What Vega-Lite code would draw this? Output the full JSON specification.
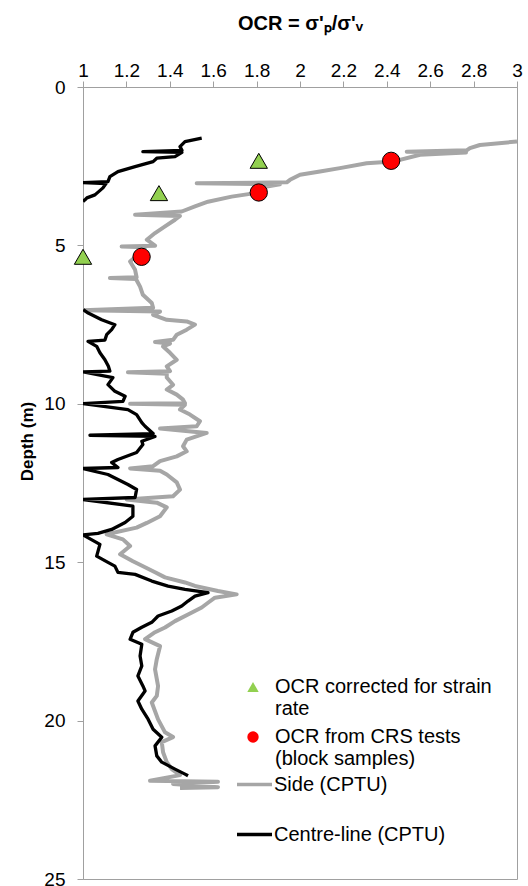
{
  "$schema": "https://vega.github.io/schema/vega-lite/v6.json",
  "width": 434,
  "height": 792,
  "autosize": {"type": "none"},
  "padding": {"left": 83, "top": 87, "right": 11, "bottom": 7},
  "background": "white",
  "config": {
    "view": {"stroke": "#A0A0A0", "strokeWidth": 1},
    "font": "Liberation Sans",
    "axis": {"grid": false, "domainColor": "#A0A0A0", "tickColor": "#A0A0A0", "labelColor": "#000000", "titleColor": "#000000", "labelFont": "Liberation Sans", "titleFont": "Liberation Sans"}
  },
  "datasets": {
    "side": [
      {"line": "Side (CPTU)", "ocr": 3.0, "depth": 1.72},
      {"line": "Side (CPTU)", "ocr": 2.829, "depth": 1.83},
      {"line": "Side (CPTU)", "ocr": 2.783, "depth": 1.93},
      {"line": "Side (CPTU)", "ocr": 2.768, "depth": 2.0},
      {"line": "Side (CPTU)", "ocr": 2.492, "depth": 2.04},
      {"line": "Side (CPTU)", "ocr": 2.765, "depth": 2.065},
      {"line": "Side (CPTU)", "ocr": 2.553, "depth": 2.14},
      {"line": "Side (CPTU)", "ocr": 2.429, "depth": 2.355},
      {"line": "Side (CPTU)", "ocr": 2.307, "depth": 2.405},
      {"line": "Side (CPTU)", "ocr": 2.184, "depth": 2.56},
      {"line": "Side (CPTU)", "ocr": 2.092, "depth": 2.67},
      {"line": "Side (CPTU)", "ocr": 2.0, "depth": 2.77},
      {"line": "Side (CPTU)", "ocr": 1.954, "depth": 2.93},
      {"line": "Side (CPTU)", "ocr": 1.939, "depth": 3.01},
      {"line": "Side (CPTU)", "ocr": 1.524, "depth": 3.035},
      {"line": "Side (CPTU)", "ocr": 1.908, "depth": 3.07},
      {"line": "Side (CPTU)", "ocr": 1.847, "depth": 3.14},
      {"line": "Side (CPTU)", "ocr": 1.793, "depth": 3.35},
      {"line": "Side (CPTU)", "ocr": 1.685, "depth": 3.46},
      {"line": "Side (CPTU)", "ocr": 1.576, "depth": 3.62},
      {"line": "Side (CPTU)", "ocr": 1.516, "depth": 3.77},
      {"line": "Side (CPTU)", "ocr": 1.455, "depth": 3.93},
      {"line": "Side (CPTU)", "ocr": 1.24, "depth": 4.035},
      {"line": "Side (CPTU)", "ocr": 1.447, "depth": 4.07},
      {"line": "Side (CPTU)", "ocr": 1.424, "depth": 4.19},
      {"line": "Side (CPTU)", "ocr": 1.378, "depth": 4.4},
      {"line": "Side (CPTU)", "ocr": 1.332, "depth": 4.61},
      {"line": "Side (CPTU)", "ocr": 1.294, "depth": 4.82},
      {"line": "Side (CPTU)", "ocr": 1.332, "depth": 5.01},
      {"line": "Side (CPTU)", "ocr": 1.178, "depth": 5.035},
      {"line": "Side (CPTU)", "ocr": 1.286, "depth": 5.06},
      {"line": "Side (CPTU)", "ocr": 1.271, "depth": 5.19},
      {"line": "Side (CPTU)", "ocr": 1.217, "depth": 5.51},
      {"line": "Side (CPTU)", "ocr": 1.24, "depth": 5.77},
      {"line": "Side (CPTU)", "ocr": 1.247, "depth": 6.005},
      {"line": "Side (CPTU)", "ocr": 1.124, "depth": 6.03},
      {"line": "Side (CPTU)", "ocr": 1.244, "depth": 6.06},
      {"line": "Side (CPTU)", "ocr": 1.263, "depth": 6.3},
      {"line": "Side (CPTU)", "ocr": 1.276, "depth": 6.56},
      {"line": "Side (CPTU)", "ocr": 1.317, "depth": 6.82},
      {"line": "Side (CPTU)", "ocr": 1.323, "depth": 6.97},
      {"line": "Side (CPTU)", "ocr": 1.0, "depth": 7.05},
      {"line": "Side (CPTU)", "ocr": 1.355, "depth": 7.09},
      {"line": "Side (CPTU)", "ocr": 1.323, "depth": 7.19},
      {"line": "Side (CPTU)", "ocr": 1.386, "depth": 7.35},
      {"line": "Side (CPTU)", "ocr": 1.478, "depth": 7.4},
      {"line": "Side (CPTU)", "ocr": 1.516, "depth": 7.5},
      {"line": "Side (CPTU)", "ocr": 1.478, "depth": 7.66},
      {"line": "Side (CPTU)", "ocr": 1.432, "depth": 7.82},
      {"line": "Side (CPTU)", "ocr": 1.415, "depth": 7.98},
      {"line": "Side (CPTU)", "ocr": 1.332, "depth": 8.05},
      {"line": "Side (CPTU)", "ocr": 1.401, "depth": 8.1},
      {"line": "Side (CPTU)", "ocr": 1.369, "depth": 8.19},
      {"line": "Side (CPTU)", "ocr": 1.401, "depth": 8.39},
      {"line": "Side (CPTU)", "ocr": 1.432, "depth": 8.61},
      {"line": "Side (CPTU)", "ocr": 1.386, "depth": 8.82},
      {"line": "Side (CPTU)", "ocr": 1.401, "depth": 8.97},
      {"line": "Side (CPTU)", "ocr": 1.207, "depth": 9.005},
      {"line": "Side (CPTU)", "ocr": 1.386, "depth": 9.05},
      {"line": "Side (CPTU)", "ocr": 1.386, "depth": 9.17},
      {"line": "Side (CPTU)", "ocr": 1.415, "depth": 9.4},
      {"line": "Side (CPTU)", "ocr": 1.386, "depth": 9.55},
      {"line": "Side (CPTU)", "ocr": 1.432, "depth": 9.71},
      {"line": "Side (CPTU)", "ocr": 1.461, "depth": 9.87},
      {"line": "Side (CPTU)", "ocr": 1.47, "depth": 9.98},
      {"line": "Side (CPTU)", "ocr": 1.217, "depth": 9.995},
      {"line": "Side (CPTU)", "ocr": 1.47, "depth": 10.03},
      {"line": "Side (CPTU)", "ocr": 1.447, "depth": 10.18},
      {"line": "Side (CPTU)", "ocr": 1.493, "depth": 10.34},
      {"line": "Side (CPTU)", "ocr": 1.539, "depth": 10.55},
      {"line": "Side (CPTU)", "ocr": 1.524, "depth": 10.71},
      {"line": "Side (CPTU)", "ocr": 1.355, "depth": 10.78},
      {"line": "Side (CPTU)", "ocr": 1.57, "depth": 10.92},
      {"line": "Side (CPTU)", "ocr": 1.478, "depth": 11.13},
      {"line": "Side (CPTU)", "ocr": 1.461, "depth": 11.34},
      {"line": "Side (CPTU)", "ocr": 1.478, "depth": 11.5},
      {"line": "Side (CPTU)", "ocr": 1.432, "depth": 11.66},
      {"line": "Side (CPTU)", "ocr": 1.355, "depth": 11.81},
      {"line": "Side (CPTU)", "ocr": 1.323, "depth": 11.97},
      {"line": "Side (CPTU)", "ocr": 1.217, "depth": 12.04},
      {"line": "Side (CPTU)", "ocr": 1.355, "depth": 12.11},
      {"line": "Side (CPTU)", "ocr": 1.386, "depth": 12.23},
      {"line": "Side (CPTU)", "ocr": 1.432, "depth": 12.48},
      {"line": "Side (CPTU)", "ocr": 1.447, "depth": 12.71},
      {"line": "Side (CPTU)", "ocr": 1.415, "depth": 12.92},
      {"line": "Side (CPTU)", "ocr": 1.201, "depth": 13.02},
      {"line": "Side (CPTU)", "ocr": 1.34, "depth": 13.12},
      {"line": "Side (CPTU)", "ocr": 1.386, "depth": 13.27},
      {"line": "Side (CPTU)", "ocr": 1.355, "depth": 13.55},
      {"line": "Side (CPTU)", "ocr": 1.294, "depth": 13.76},
      {"line": "Side (CPTU)", "ocr": 1.247, "depth": 13.91},
      {"line": "Side (CPTU)", "ocr": 1.109, "depth": 14.12},
      {"line": "Side (CPTU)", "ocr": 1.184, "depth": 14.28},
      {"line": "Side (CPTU)", "ocr": 1.217, "depth": 14.49},
      {"line": "Side (CPTU)", "ocr": 1.171, "depth": 14.75},
      {"line": "Side (CPTU)", "ocr": 1.23, "depth": 14.97},
      {"line": "Side (CPTU)", "ocr": 1.286, "depth": 15.16},
      {"line": "Side (CPTU)", "ocr": 1.332, "depth": 15.32},
      {"line": "Side (CPTU)", "ocr": 1.378, "depth": 15.48},
      {"line": "Side (CPTU)", "ocr": 1.47, "depth": 15.64},
      {"line": "Side (CPTU)", "ocr": 1.516, "depth": 15.75},
      {"line": "Side (CPTU)", "ocr": 1.622, "depth": 15.91},
      {"line": "Side (CPTU)", "ocr": 1.708, "depth": 16.015},
      {"line": "Side (CPTU)", "ocr": 1.608, "depth": 16.12},
      {"line": "Side (CPTU)", "ocr": 1.576, "depth": 16.28},
      {"line": "Side (CPTU)", "ocr": 1.547, "depth": 16.43},
      {"line": "Side (CPTU)", "ocr": 1.484, "depth": 16.65},
      {"line": "Side (CPTU)", "ocr": 1.424, "depth": 16.86},
      {"line": "Side (CPTU)", "ocr": 1.378, "depth": 17.06},
      {"line": "Side (CPTU)", "ocr": 1.332, "depth": 17.21},
      {"line": "Side (CPTU)", "ocr": 1.286, "depth": 17.43},
      {"line": "Side (CPTU)", "ocr": 1.355, "depth": 17.65},
      {"line": "Side (CPTU)", "ocr": 1.34, "depth": 18.06},
      {"line": "Side (CPTU)", "ocr": 1.332, "depth": 18.38},
      {"line": "Side (CPTU)", "ocr": 1.346, "depth": 18.91},
      {"line": "Side (CPTU)", "ocr": 1.34, "depth": 19.22},
      {"line": "Side (CPTU)", "ocr": 1.317, "depth": 19.43},
      {"line": "Side (CPTU)", "ocr": 1.346, "depth": 19.96},
      {"line": "Side (CPTU)", "ocr": 1.378, "depth": 20.37},
      {"line": "Side (CPTU)", "ocr": 1.415, "depth": 20.52},
      {"line": "Side (CPTU)", "ocr": 1.363, "depth": 20.68},
      {"line": "Side (CPTU)", "ocr": 1.369, "depth": 21.0},
      {"line": "Side (CPTU)", "ocr": 1.386, "depth": 21.31},
      {"line": "Side (CPTU)", "ocr": 1.409, "depth": 21.53},
      {"line": "Side (CPTU)", "ocr": 1.447, "depth": 21.72},
      {"line": "Side (CPTU)", "ocr": 1.309, "depth": 21.9},
      {"line": "Side (CPTU)", "ocr": 1.622, "depth": 21.93},
      {"line": "Side (CPTU)", "ocr": 1.415, "depth": 22.0},
      {"line": "Side (CPTU)", "ocr": 1.622, "depth": 22.1},
      {"line": "Side (CPTU)", "ocr": 1.447, "depth": 22.13}
    ],
    "centre": [
      {"line": "Centre-line (CPTU)", "seg": "upper", "ocr": 1.547, "depth": 1.617},
      {"line": "Centre-line (CPTU)", "seg": "upper", "ocr": 1.47, "depth": 1.724},
      {"line": "Centre-line (CPTU)", "seg": "upper", "ocr": 1.447, "depth": 1.882},
      {"line": "Centre-line (CPTU)", "seg": "upper", "ocr": 1.456, "depth": 2.0},
      {"line": "Centre-line (CPTU)", "seg": "upper", "ocr": 1.276, "depth": 2.04},
      {"line": "Centre-line (CPTU)", "seg": "upper", "ocr": 1.456, "depth": 2.065},
      {"line": "Centre-line (CPTU)", "seg": "upper", "ocr": 1.424, "depth": 2.197},
      {"line": "Centre-line (CPTU)", "seg": "upper", "ocr": 1.34, "depth": 2.248},
      {"line": "Centre-line (CPTU)", "seg": "upper", "ocr": 1.323, "depth": 2.355},
      {"line": "Centre-line (CPTU)", "seg": "upper", "ocr": 1.24, "depth": 2.513},
      {"line": "Centre-line (CPTU)", "seg": "upper", "ocr": 1.161, "depth": 2.67},
      {"line": "Centre-line (CPTU)", "seg": "upper", "ocr": 1.124, "depth": 2.828},
      {"line": "Centre-line (CPTU)", "seg": "upper", "ocr": 1.115, "depth": 2.986},
      {"line": "Centre-line (CPTU)", "seg": "upper", "ocr": 1.0, "depth": 3.017},
      {"line": "Centre-line (CPTU)", "seg": "upper", "ocr": 1.106, "depth": 3.05},
      {"line": "Centre-line (CPTU)", "seg": "upper", "ocr": 1.092, "depth": 3.184},
      {"line": "Centre-line (CPTU)", "seg": "upper", "ocr": 1.055, "depth": 3.405},
      {"line": "Centre-line (CPTU)", "seg": "upper", "ocr": 1.018, "depth": 3.499},
      {"line": "Centre-line (CPTU)", "seg": "upper", "ocr": 1.009, "depth": 3.562},
      {"line": "Centre-line (CPTU)", "seg": "upper", "ocr": 1.0, "depth": 3.616},
      {"line": "Centre-line (CPTU)", "seg": "lower", "ocr": 1.001, "depth": 7.03},
      {"line": "Centre-line (CPTU)", "seg": "lower", "ocr": 1.024, "depth": 7.134},
      {"line": "Centre-line (CPTU)", "seg": "lower", "ocr": 1.086, "depth": 7.346},
      {"line": "Centre-line (CPTU)", "seg": "lower", "ocr": 1.147, "depth": 7.503},
      {"line": "Centre-line (CPTU)", "seg": "lower", "ocr": 1.132, "depth": 7.661},
      {"line": "Centre-line (CPTU)", "seg": "lower", "ocr": 1.109, "depth": 7.818},
      {"line": "Centre-line (CPTU)", "seg": "lower", "ocr": 1.101, "depth": 7.99},
      {"line": "Centre-line (CPTU)", "seg": "lower", "ocr": 1.023, "depth": 8.03},
      {"line": "Centre-line (CPTU)", "seg": "lower", "ocr": 1.063, "depth": 8.187},
      {"line": "Centre-line (CPTU)", "seg": "lower", "ocr": 1.078, "depth": 8.386},
      {"line": "Centre-line (CPTU)", "seg": "lower", "ocr": 1.101, "depth": 8.607},
      {"line": "Centre-line (CPTU)", "seg": "lower", "ocr": 1.117, "depth": 8.818},
      {"line": "Centre-line (CPTU)", "seg": "lower", "ocr": 1.124, "depth": 8.97},
      {"line": "Centre-line (CPTU)", "seg": "lower", "ocr": 1.0, "depth": 8.994},
      {"line": "Centre-line (CPTU)", "seg": "lower", "ocr": 1.138, "depth": 9.174},
      {"line": "Centre-line (CPTU)", "seg": "lower", "ocr": 1.115, "depth": 9.395},
      {"line": "Centre-line (CPTU)", "seg": "lower", "ocr": 1.147, "depth": 9.606},
      {"line": "Centre-line (CPTU)", "seg": "lower", "ocr": 1.194, "depth": 9.764},
      {"line": "Centre-line (CPTU)", "seg": "lower", "ocr": 1.184, "depth": 9.921},
      {"line": "Centre-line (CPTU)", "seg": "lower", "ocr": 1.0, "depth": 9.994},
      {"line": "Centre-line (CPTU)", "seg": "lower", "ocr": 1.207, "depth": 10.183},
      {"line": "Centre-line (CPTU)", "seg": "lower", "ocr": 1.247, "depth": 10.341},
      {"line": "Centre-line (CPTU)", "seg": "lower", "ocr": 1.271, "depth": 10.593},
      {"line": "Centre-line (CPTU)", "seg": "lower", "ocr": 1.286, "depth": 10.709},
      {"line": "Centre-line (CPTU)", "seg": "lower", "ocr": 1.323, "depth": 10.94},
      {"line": "Centre-line (CPTU)", "seg": "lower", "ocr": 1.032, "depth": 10.993},
      {"line": "Centre-line (CPTU)", "seg": "lower", "ocr": 1.332, "depth": 11.03},
      {"line": "Centre-line (CPTU)", "seg": "lower", "ocr": 1.271, "depth": 11.182},
      {"line": "Centre-line (CPTU)", "seg": "lower", "ocr": 1.276, "depth": 11.286},
      {"line": "Centre-line (CPTU)", "seg": "lower", "ocr": 1.247, "depth": 11.539},
      {"line": "Centre-line (CPTU)", "seg": "lower", "ocr": 1.161, "depth": 11.759},
      {"line": "Centre-line (CPTU)", "seg": "lower", "ocr": 1.132, "depth": 11.854},
      {"line": "Centre-line (CPTU)", "seg": "lower", "ocr": 1.161, "depth": 12.011},
      {"line": "Centre-line (CPTU)", "seg": "lower", "ocr": 1.0, "depth": 12.043},
      {"line": "Centre-line (CPTU)", "seg": "lower", "ocr": 1.115, "depth": 12.232},
      {"line": "Centre-line (CPTU)", "seg": "lower", "ocr": 1.161, "depth": 12.39},
      {"line": "Centre-line (CPTU)", "seg": "lower", "ocr": 1.207, "depth": 12.547},
      {"line": "Centre-line (CPTU)", "seg": "lower", "ocr": 1.247, "depth": 12.705},
      {"line": "Centre-line (CPTU)", "seg": "lower", "ocr": 1.24, "depth": 12.957},
      {"line": "Centre-line (CPTU)", "seg": "lower", "ocr": 1.0, "depth": 13.02},
      {"line": "Centre-line (CPTU)", "seg": "lower", "ocr": 1.23, "depth": 13.231},
      {"line": "Centre-line (CPTU)", "seg": "lower", "ocr": 1.23, "depth": 13.547},
      {"line": "Centre-line (CPTU)", "seg": "lower", "ocr": 1.194, "depth": 13.745},
      {"line": "Centre-line (CPTU)", "seg": "lower", "ocr": 1.132, "depth": 13.966},
      {"line": "Centre-line (CPTU)", "seg": "lower", "ocr": 1.069, "depth": 14.09},
      {"line": "Centre-line (CPTU)", "seg": "lower", "ocr": 1.0, "depth": 14.14},
      {"line": "Centre-line (CPTU)", "seg": "lower", "ocr": 1.078, "depth": 14.439},
      {"line": "Centre-line (CPTU)", "seg": "lower", "ocr": 1.063, "depth": 14.808},
      {"line": "Centre-line (CPTU)", "seg": "lower", "ocr": 1.115, "depth": 15.006},
      {"line": "Centre-line (CPTU)", "seg": "lower", "ocr": 1.147, "depth": 15.123},
      {"line": "Centre-line (CPTU)", "seg": "lower", "ocr": 1.161, "depth": 15.322},
      {"line": "Centre-line (CPTU)", "seg": "lower", "ocr": 1.24, "depth": 15.385},
      {"line": "Centre-line (CPTU)", "seg": "lower", "ocr": 1.317, "depth": 15.596},
      {"line": "Centre-line (CPTU)", "seg": "lower", "ocr": 1.392, "depth": 15.754},
      {"line": "Centre-line (CPTU)", "seg": "lower", "ocr": 1.47, "depth": 15.857},
      {"line": "Centre-line (CPTU)", "seg": "lower", "ocr": 1.576, "depth": 15.962},
      {"line": "Centre-line (CPTU)", "seg": "lower", "ocr": 1.516, "depth": 16.069},
      {"line": "Centre-line (CPTU)", "seg": "lower", "ocr": 1.484, "depth": 16.226},
      {"line": "Centre-line (CPTU)", "seg": "lower", "ocr": 1.455, "depth": 16.384},
      {"line": "Centre-line (CPTU)", "seg": "lower", "ocr": 1.409, "depth": 16.541},
      {"line": "Centre-line (CPTU)", "seg": "lower", "ocr": 1.346, "depth": 16.699},
      {"line": "Centre-line (CPTU)", "seg": "lower", "ocr": 1.317, "depth": 16.898},
      {"line": "Centre-line (CPTU)", "seg": "lower", "ocr": 1.271, "depth": 17.055},
      {"line": "Centre-line (CPTU)", "seg": "lower", "ocr": 1.23, "depth": 17.213},
      {"line": "Centre-line (CPTU)", "seg": "lower", "ocr": 1.217, "depth": 17.434},
      {"line": "Centre-line (CPTU)", "seg": "lower", "ocr": 1.271, "depth": 17.591},
      {"line": "Centre-line (CPTU)", "seg": "lower", "ocr": 1.263, "depth": 17.96},
      {"line": "Centre-line (CPTU)", "seg": "lower", "ocr": 1.271, "depth": 18.275},
      {"line": "Centre-line (CPTU)", "seg": "lower", "ocr": 1.253, "depth": 18.591},
      {"line": "Centre-line (CPTU)", "seg": "lower", "ocr": 1.276, "depth": 18.906},
      {"line": "Centre-line (CPTU)", "seg": "lower", "ocr": 1.286, "depth": 19.064},
      {"line": "Centre-line (CPTU)", "seg": "lower", "ocr": 1.253, "depth": 19.379},
      {"line": "Centre-line (CPTU)", "seg": "lower", "ocr": 1.271, "depth": 19.641},
      {"line": "Centre-line (CPTU)", "seg": "lower", "ocr": 1.3, "depth": 19.956},
      {"line": "Centre-line (CPTU)", "seg": "lower", "ocr": 1.323, "depth": 20.271},
      {"line": "Centre-line (CPTU)", "seg": "lower", "ocr": 1.363, "depth": 20.523},
      {"line": "Centre-line (CPTU)", "seg": "lower", "ocr": 1.332, "depth": 20.798},
      {"line": "Centre-line (CPTU)", "seg": "lower", "ocr": 1.34, "depth": 21.113},
      {"line": "Centre-line (CPTU)", "seg": "lower", "ocr": 1.363, "depth": 21.312},
      {"line": "Centre-line (CPTU)", "seg": "lower", "ocr": 1.424, "depth": 21.532},
      {"line": "Centre-line (CPTU)", "seg": "lower", "ocr": 1.47, "depth": 21.69},
      {"line": "Centre-line (CPTU)", "seg": "lower", "ocr": 1.484, "depth": 21.743}
    ],
    "tests": [
      {"series": "OCR corrected for strain rate", "ocr": 1.81, "depth": 2.33},
      {"series": "OCR corrected for strain rate", "ocr": 1.35, "depth": 3.35},
      {"series": "OCR corrected for strain rate", "ocr": 1.0, "depth": 5.36},
      {"series": "OCR from CRS tests (block samples)", "ocr": 2.42, "depth": 2.33},
      {"series": "OCR from CRS tests (block samples)", "ocr": 1.81, "depth": 3.33},
      {"series": "OCR from CRS tests (block samples)", "ocr": 1.27, "depth": 5.36}
    ]
  },
  "encoding": {
    "x": {
      "field": "ocr", "type": "quantitative",
      "scale": {"domain": [1, 3], "nice": false, "zero": false},
      "axis": {
        "orient": "top", "values": [1, 1.2, 1.4, 1.6, 1.8, 2, 2.2, 2.4, 2.6, 2.8, 3],
        "format": "~g", "labelFontSize": 19, "tickSize": 6, "labelPadding": 1,
        "labelFlush": false, "labelOverlap": false,
        "title": "OCR = σ'ₚ/σ'ᵥ", "titleFontSize": 20, "titleFontWeight": "bold", "titlePadding": 28
      }
    },
    "y": {
      "field": "depth", "type": "quantitative",
      "scale": {"domain": [0, 25], "reverse": true, "nice": false, "zero": false},
      "axis": {
        "values": [0, 5, 10, 15, 20, 25], "labelFontSize": 19, "tickSize": 6, "labelPadding": 12,
        "labelFlush": false,
        "title": "Depth (m)", "titleFontSize": 17, "titleFontWeight": "bold",
        "titleAngle": -90, "titleX": -56, "titleY": 354, "titleAlign": "center", "titleBaseline": "middle"
      }
    }
  },
  "layer": [
    {
      "data": {"name": "side"},
      "mark": {"type": "line", "strokeWidth": 4, "clip": true, "strokeJoin": "round"},
      "encoding": {
        "order": {"field": "depth", "type": "quantitative"},
        "stroke": {
          "field": "line", "type": "nominal",
          "scale": {"domain": ["Side (CPTU)", "Centre-line (CPTU)"], "range": ["#A6A6A6", "#000000"]},
          "legend": {"orient": "none", "legendX": 152, "legendY": 678, "title": null, "padding": 0,
            "symbolType": "stroke", "symbolSize": 1225, "symbolStrokeWidth": 3.5,
            "labelFontSize": 20, "labelFont": "Liberation Sans", "labelColor": "#000000", "labelLimit": 400,
            "labelOffset": 0, "rowPadding": 20}
        }
      }
    },
    {
      "data": {"name": "centre"},
      "mark": {"type": "line", "strokeWidth": 3.3, "clip": true, "strokeJoin": "round"},
      "encoding": {
        "order": {"field": "depth", "type": "quantitative"},
        "detail": {"field": "seg", "type": "nominal"},
        "stroke": {
          "field": "line", "type": "nominal",
          "scale": {"domain": ["Side (CPTU)", "Centre-line (CPTU)"], "range": ["#A6A6A6", "#000000"]},
          "legend": {"orient": "none", "legendX": 152, "legendY": 678, "title": null, "padding": 0,
            "symbolType": "stroke", "symbolSize": 1225, "symbolStrokeWidth": 3.5,
            "labelFontSize": 20, "labelFont": "Liberation Sans", "labelColor": "#000000", "labelLimit": 400,
            "labelOffset": 0, "rowPadding": 20}
        }
      }
    },
    {
      "data": {"name": "tests"},
      "mark": {"type": "point", "filled": true, "strokeWidth": 1, "opacity": 1, "size": 300, "clip": false},
      "encoding": {
        "stroke": {"value": "#000000"},
        "fill": {
          "field": "series", "type": "nominal",
          "scale": {"domain": ["OCR corrected for strain rate", "OCR from CRS tests (block samples)"], "range": ["#92D050", "#FF0000"]},
          "legend": {"orient": "none", "legendX": 160, "legendY": 590, "title": null, "padding": 0,
            "symbolSize": 130, "symbolStrokeColor": "#000000", "symbolStrokeWidth": 1,
            "labelFontSize": 20, "labelFont": "Liberation Sans", "labelColor": "#000000", "labelLimit": 400,
            "labelOffset": 12, "rowPadding": 8,
            "encode": {"symbols": {"update": {"stroke": {"value": "#000000"}, "strokeWidth": {"value": 1}}}},
            "labelExpr": "datum.label == 'OCR corrected for strain rate' ? ['OCR corrected for strain', 'rate'] : ['OCR from CRS tests', '(block samples)']"}
        },
        "shape": {
          "field": "series", "type": "nominal",
          "scale": {"domain": ["OCR corrected for strain rate", "OCR from CRS tests (block samples)"], "range": ["triangle-up", "circle"]},
          "legend": {"orient": "none", "legendX": 160, "legendY": 590, "title": null, "padding": 0,
            "symbolSize": 130, "symbolStrokeColor": "#000000", "symbolStrokeWidth": 1,
            "labelFontSize": 20, "labelFont": "Liberation Sans", "labelColor": "#000000", "labelLimit": 400,
            "labelOffset": 12, "rowPadding": 8,
            "encode": {"symbols": {"update": {"stroke": {"value": "#000000"}, "strokeWidth": {"value": 1}}}},
            "labelExpr": "datum.label == 'OCR corrected for strain rate' ? ['OCR corrected for strain', 'rate'] : ['OCR from CRS tests', '(block samples)']"}
        }
      }
    }
  ]
}
